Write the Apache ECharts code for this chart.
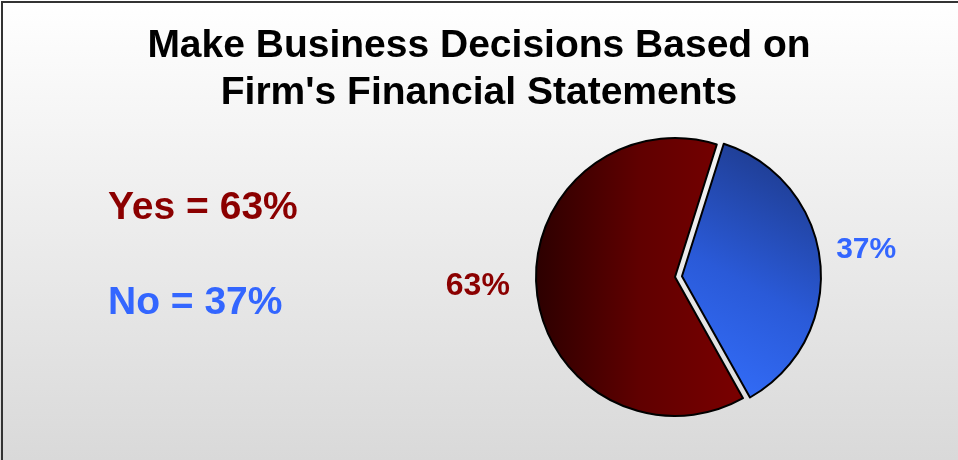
<!DOCTYPE html>
<html>
<head>
<meta charset="utf-8">
<script src="https://cdn.jsdelivr.net/npm/echarts@6/dist/echarts.min.js"></script>
<style>
html,body{margin:0;padding:0;background:#fff;}
#chart{width:958px;height:460px;}
</style>
</head>
<body>
<div id="chart"></div>
<script>
const titleText = "Make Business Decisions Based on\nFirm's Financial Statements";
const categories = ["Yes", "No"];
const values = [63, 37];
const textColors = ["#8b0000", "#3366ff"];

const FONT = "'Liberation Sans', Arial, sans-serif";

const fills = [
  { type: 'linear', x: 0, y: 0, x2: 1, y2: 0,
    colorStops: [{offset: 0, color: '#2c0000'}, {offset: 0.5, color: '#600000'}, {offset: 1, color: '#7a0000'}] },
  { type: 'linear', x: 0, y: 1, x2: 1, y2: 0,
    colorStops: [{offset: 0, color: '#3470ff'}, {offset: 0.45, color: '#2a5ad8'}, {offset: 1, color: '#1c357f'}] }
];
const labelCfg = [
  { len: 20, len2: 2, dy: -7, size: 32 },
  { len: 8, len2: 3, dy: -11, size: 30 }
];

const chart = echarts.init(document.getElementById('chart'), null, {renderer: 'canvas'});
chart.setOption({
  backgroundColor: { type: 'linear', x: 0, y: 0, x2: 0, y2: 1,
    colorStops: [{offset: 0, color: '#ffffff'}, {offset: 1, color: '#d9d9d9'}] },
  title: {
    text: titleText,
    left: 'center',
    top: 18,
    textStyle: { fontFamily: FONT, fontSize: 39, fontWeight: 'bold', color: '#000', lineHeight: 47 }
  },
  legend: {
    orient: 'vertical',
    left: 103,
    top: 188,
    padding: 0,
    itemWidth: 0,
    itemHeight: 40,
    itemGap: 55,
    icon: 'none',
    selectedMode: false,
    data: categories.map((c, i) => ({ name: c, textStyle: { color: textColors[i] } })),
    formatter: name => name + ' = ' + values[categories.indexOf(name)] + '%',
    textStyle: { fontFamily: FONT, fontSize: 39, fontWeight: 'bold', lineHeight: 40 }
  },
  graphic: [{
    type: 'rect', silent: true,
    shape: { x: 2, y: 2, width: 1100, height: 1100 },
    style: { fill: 'none', stroke: '#333', lineWidth: 2 }
  }],
  series: [{
    type: 'pie',
    center: [675, 277],
    radius: 139,
    startAngle: 299.3,
    clockwise: true,
    avoidLabelOverlap: false,
    selectedMode: 'single',
    selectedOffset: 7,
    animation: false,
    itemStyle: { borderColor: '#000', borderWidth: 2 },
    emphasis: { disabled: true },
    labelLayout: p => ({ dy: labelCfg[p.dataIndex].dy }),
    data: categories.map((c, i) => ({
      name: c,
      value: values[i],
      selected: i === 1,
      itemStyle: { color: fills[i] },
      label: {
        show: true, position: 'outside',
        color: textColors[i], fontFamily: FONT, fontSize: labelCfg[i].size, fontWeight: 'bold',
        formatter: p => Math.round(p.percent) + '%'
      },
      labelLine: { show: false, length: labelCfg[i].len, length2: labelCfg[i].len2 }
    }))
  }]
});
</script>
</body>
</html>
